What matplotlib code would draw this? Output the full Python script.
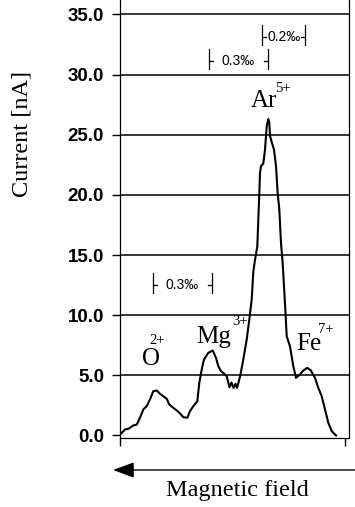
import matplotlib
matplotlib.use('Agg')
import matplotlib.pyplot as plt

# Scan: beam current vs. magnetic field position (arbitrary channel units)
field = [1, 5, 8.3, 13.3, 16.7, 20, 23.3, 26.7, 30, 33.3, 36.7, 40, 43.3, 46.7,
         49.3, 53.3, 56.7, 60, 63.3, 67.3, 70, 73.3, 77.3, 79.3, 81.7, 84, 88.3,
         92.7, 96, 98.3, 101, 103.3, 106.7, 109.5, 111.5, 113.5, 115.5, 117,
         118.5, 120.5, 123.3, 126.7, 129.3, 131.7, 133.3, 135, 137.3, 138.3,
         139.3, 140, 141, 143.3, 145, 146.7, 148.3, 149.3, 150, 151.7, 154,
         156, 157.7, 159.3, 161, 162.7, 164, 165.3, 166.7, 170, 173.3, 176, 180,
         183.3, 187.3, 190.7, 195, 198.3, 201.7, 205, 208.3, 211.7, 215, 216]
current = [0.15, 0.5, 0.55, 0.83, 0.9, 1.47, 2.16, 2.43, 3.0, 3.68, 3.74, 3.46,
           3.26, 3.05, 2.57, 2.3, 2.08, 1.83, 1.52, 1.47, 2.02, 2.43, 2.85, 4.38,
           5.48, 6.31, 6.87, 7.06, 6.45, 5.76, 5.34, 5.2, 4.93, 4.0, 4.4, 3.95,
           4.3, 3.95, 4.4, 5.07, 6.31, 7.97, 9.63, 11.3, 13.6, 14.6, 15.7, 17.9,
           20.1, 21.8, 22.4, 22.6, 23.75, 25.7, 26.3, 26.0, 24.9, 24.4, 23.75,
           22.4, 20.1, 18.8, 16.0, 14.3, 12.4, 10.5, 8.24, 7.41, 5.76, 4.79, 5.07,
           5.4, 5.62, 5.42, 4.79, 3.96, 3.26, 2.16, 1.05, 0.36, 0.08, 0.0]

yticks = [0, 5, 10, 15, 20, 25, 30, 35]

# ion labels: element, charge
ions = ['O', 'Mg', 'Ar', 'Fe']
charges = ['2+', '3+', '5+', '7+']
# label positions (x, y) for element symbol and for charge
ion_pos = [(22, 5.86), (76, 7.67), (131, 27.33), (176, 7.1)]
charge_pos = [(29, 7.6), (112, 9.19), (155, 28.55), (198, 8.52)]

# resolution brackets: left, right, middle height, label
brackets = [(89, 147.7, 31.13, '0.3‰'),
            (142.3, 185, 33.1, '0.2‰'),
            (32.7, 91.7, 12.51, '0.3‰')]

fig = plt.figure(figsize=(3.55, 5.07), dpi=100)
ax = fig.add_axes([119.5 / 355, 69.5 / 507, 229.5 / 355, 437.5 / 507])

for t in yticks[1:]:
    ax.axhline(t, color='black', lw=1.1, zorder=1)

ax.plot(field, current, color='black', lw=1.5, zorder=3)

ax.set_xlim(-0.5, 229)
ax.set_ylim(-0.17, 36.2)
ax.set_yticks(yticks)
ax.set_yticklabels([f'{t:.1f}' for t in yticks], fontsize=13.5,
                   fontweight='bold', family=['Liberation Sans', 'DejaVu Sans'])
ax.set_xticks([0, 225])
ax.set_xticklabels([])
ax.tick_params(axis='y', direction='out', length=6, width=1, pad=5)
ax.tick_params(axis='x', direction='out', length=6, width=1)
ax.spines['top'].set_visible(False)
for s in ['left', 'right', 'bottom']:
    ax.spines[s].set_linewidth(0.9)

serif = ['Liberation Serif', 'DejaVu Serif']
for name, (x, y) in zip(ions, ion_pos):
    ax.text(x, y, name, fontsize=18, family=serif, ha='left', va='baseline')
for ch, (x, y) in zip(charges, charge_pos):
    ax.text(x, y, ch, fontsize=10.5, family=serif, ha='left', va='baseline')

sans = ['Liberation Sans', 'DejaVu Sans']
for x0, x1, ym, lab in brackets:
    ax.plot([x0, x0], [ym - 0.65, ym + 1.0], color='black', lw=0.9)
    ax.plot([x1, x1], [ym - 0.65, ym + 1.0], color='black', lw=0.9)
    ax.plot([x0, x0 + 4], [ym, ym], color='black', lw=0.9)
    ax.plot([x1 - 4, x1], [ym, ym], color='black', lw=0.9)
    ax.text((x0 + x1) / 2, ym, lab, fontsize=10, family=sans,
            ha='center', va='center')

fig.text(22 / 355, 1 - 134 / 507, 'Current [nA]', rotation=90, fontsize=17.5,
         family=serif, ha='center', va='center')
fig.text(237 / 355, 11 / 507, 'Magnetic field', fontsize=17.5, family=serif,
         ha='center', va='baseline')
ax.annotate('', xy=(113 / 355, 37 / 507), xytext=(1.0, 37 / 507),
            xycoords='figure fraction', textcoords='figure fraction',
            arrowprops=dict(arrowstyle='-|>,head_length=0.65,head_width=0.24',
                            mutation_scale=20, color='black', lw=1.0,
                            shrinkA=0, shrinkB=0))

plt.savefig('out.png', dpi=100)
